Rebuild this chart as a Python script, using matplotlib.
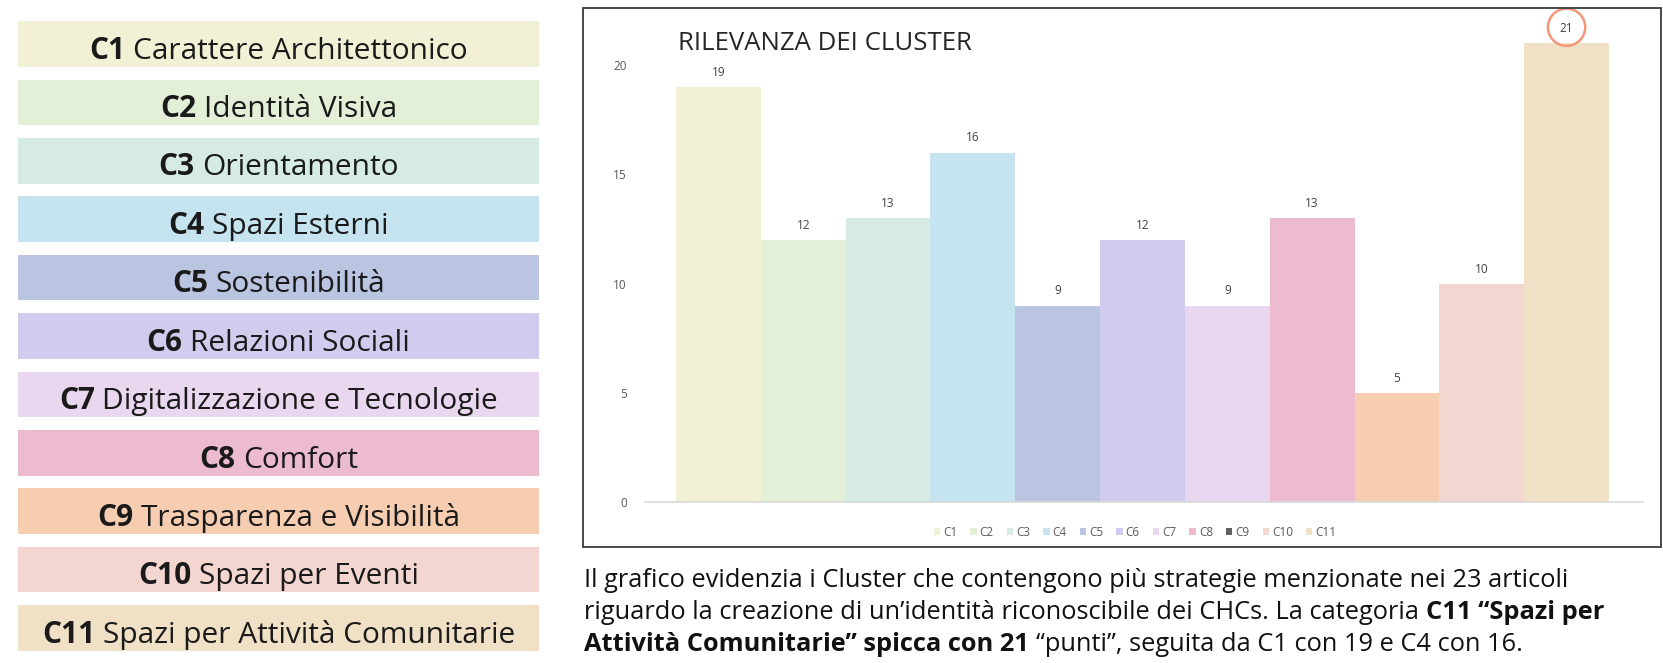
import matplotlib
matplotlib.use("Agg")
import matplotlib.pyplot as plt
from matplotlib.patches import Rectangle, Patch
import numpy as np

# ---- data ----
clusters = ["C1", "C2", "C3", "C4", "C5", "C6", "C7", "C8", "C9", "C10", "C11"]
names = ["Carattere Architettonico", "Identità Visiva", "Orientamento", "Spazi Esterni",
         "Sostenibilità", "Relazioni Sociali", "Digitalizzazione e Tecnologie", "Comfort",
         "Trasparenza e Visibilità", "Spazi per Eventi", "Spazi per Attività Comunitarie"]
values = [19, 12, 13, 16, 9, 12, 9, 13, 5, 10, 21]
colors = ["#F2F1D5", "#E4EFD7", "#D5EBE3", "#C5E4EF", "#BAC5E2", "#D0CCEE",
          "#E8D7EE", "#EDBBD0", "#F7CDB1", "#F4D6D1", "#F0E0C5"]
legend_colors = colors[:8] + ["#606060"] + colors[9:]
yticks = [0, 5, 10, 15, 20]
title = "RILEVANZA DEI CLUSTER"
paragraph = [
    [("Il grafico evidenzia i Cluster che contengono più strategie menzionate nei 23 articoli", "normal")],
    [("riguardo la creazione di un’identità riconoscibile dei CHCs. La categoria", "normal"),
     ("C11 “Spazi per", "bold")],
    [("Attività Comunitarie” spicca con 21", "bold"),
     ("“punti”, seguita da C1 con 19 e C4 con 16.", "normal")],
]

W, H = 1663, 663
fig = plt.figure(figsize=(W / 100, H / 100), dpi=100)
renderer = fig.canvas.get_renderer()

def fx(px):
    return px / W

def fy(py):
    return 1 - py / H

BOX_FONT = ["Open Sans", "DejaVu Sans"]
PAR_FONT = ["Open Sans", "DejaVu Sans"]

def text_width(s, **kw):
    t = fig.text(0, 0, s, **kw)
    w = t.get_window_extent(renderer).width
    t.remove()
    return w

def draw_segments(segs, x, y, align="left", family=None, size=12, color="black"):
    pieces = []
    total = 0
    for i, (s, wt) in enumerate(segs):
        w = text_width(s, family=family, fontsize=size, fontweight=wt)
        sp = text_width("x x", family=family, fontsize=size, fontweight=wt) - \
             text_width("xx", family=family, fontsize=size, fontweight=wt)
        pieces.append((s, wt, w))
        total += w
        if i < len(segs) - 1:
            total += sp
            pieces.append((None, None, sp))
    cx = x - total / 2 if align == "center" else x
    for s, wt, w in pieces:
        if s is not None:
            fig.text(fx(cx), fy(y), s, family=family, fontsize=size, fontweight=wt,
                     color=color, ha="left", va="baseline")
        cx += w

# ---- left boxes ----
box_left, box_right = 18, 539
box_top0, box_pitch, box_h = 21.2, 58.4, 45.6
for i, (c, n) in enumerate(zip(clusters, names)):
    top = box_top0 + i * box_pitch
    fig.patches.append(Rectangle((fx(box_left), fy(top + box_h)), fx(box_right - box_left),
                                 box_h / H, transform=fig.transFigure,
                                 facecolor=colors[i], edgecolor="none", zorder=0))
    draw_segments([(c, "bold"), (n, "normal")], (box_left + box_right) / 2,
                  top + 37.5, align="center", family=BOX_FONT, size=21.5,
                  color="#1a1a1a")

# ---- chart frame ----
fig.patches.append(Rectangle((fx(583), fy(547)), fx(1661 - 583), (547 - 8) / H,
                             transform=fig.transFigure, facecolor="none",
                             edgecolor="#3a3a3a", lw=1.3, zorder=10))

# ---- bar chart ----
ax_l, ax_r, ax_b = 645, 1643, 502.3
px_per_unit = 21.86
ymax = 22
ax_t = ax_b - ymax * px_per_unit
ax = fig.add_axes([fx(ax_l), fy(ax_b), fx(ax_r - ax_l), (ax_b - ax_t) / H])
ax.patch.set_alpha(0)
x = np.arange(len(clusters))
ax.bar(x, values, width=1.0, color=colors, edgecolor="none")
ax.set_xlim(-0.5 - 31 / 84.8, len(clusters) - 0.5 + 34 / 84.8)
ax.set_ylim(0, ymax)
ax.set_yticks(yticks)
ax.set_xticks([])
for s in ["top", "right", "left"]:
    ax.spines[s].set_visible(False)
ax.spines["bottom"].set_color("#D9D9D9")
ax.spines["bottom"].set_linewidth(1.2)
ax.tick_params(axis="y", length=0, pad=13, labelsize=8.5, labelcolor="#595959")
for lbl in ax.get_yticklabels():
    lbl.set_family(["Open Sans", "DejaVu Sans"])

for xi, v in zip(x, values):
    ax.annotate(str(v), (xi, v), xytext=(0, 10.5), textcoords="offset points",
                ha="center", va="center", fontsize=8.5, color="#404040",
                family=["Open Sans", "DejaVu Sans"])

imax = int(np.argmax(values))
ax.scatter([imax], [values[imax] + 16 / px_per_unit], s=720, facecolors="none",
           edgecolors="#F4967A", linewidths=1.8, clip_on=False, zorder=5)

handles = [Patch(facecolor=c, edgecolor="none") for c in legend_colors]
ax.legend(handles, clusters, loc="center", bbox_to_anchor=(fx(1135), fy(532)),
          bbox_transform=fig.transFigure, ncol=len(clusters), frameon=False,
          handlelength=0.55, handleheight=0.55, handletextpad=0.25,
          columnspacing=1.1, labelcolor="#595959",
          prop={"family": ["Open Sans", "DejaVu Sans"], "size": 8.5})

fig.text(fx(678), fy(50), title, family=["Open Sans", "DejaVu Sans"],
         fontsize=18.5, color="#262626", ha="left", va="baseline")

# ---- paragraph ----
line_y = [587, 619, 651]
for segs, yy in zip(paragraph, line_y):
    draw_segments(segs, 584, yy, align="left", family=PAR_FONT, size=18.3, color="#111111")

fig.savefig("out.png", dpi=100)
